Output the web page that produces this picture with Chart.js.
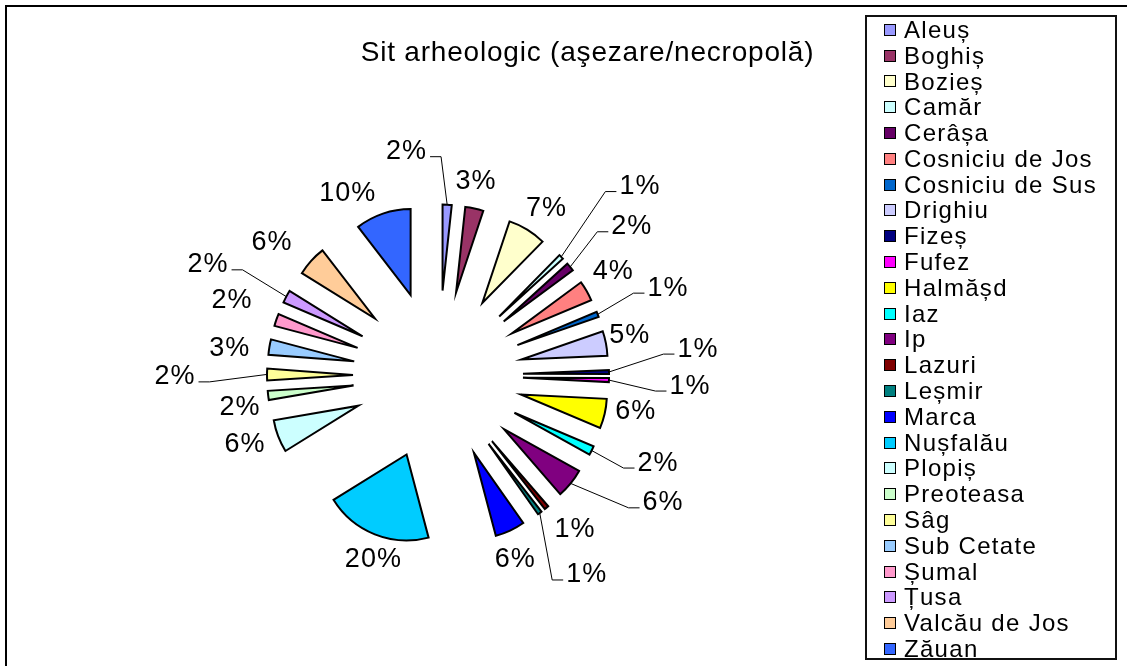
<!DOCTYPE html>
<html>
<head>
<meta charset="utf-8">
<script src="https://cdn.jsdelivr.net/npm/chart.js@4.4.1/dist/chart.umd.min.js"></script>
<style>
html,body{margin:0;padding:0;width:1127px;height:666px;overflow:hidden;background:#fff;}
#wrap{position:relative;width:1127px;height:666px;overflow:hidden;}
#frame{position:absolute;left:5px;top:5px;width:1200px;height:720px;border:2px solid #000;box-sizing:border-box;}
#chart{position:absolute;left:0;top:0;}
#title{position:absolute;left:287.5px;width:600px;top:38px;text-align:center;font-family:'Liberation Sans',Arial,sans-serif;font-size:28px;letter-spacing:0.8px;line-height:1;color:#000;white-space:nowrap;}
#legend{position:absolute;left:865px;top:15px;width:252px;height:645px;border:2px solid #111;box-sizing:border-box;background:#fff;}
#legend ul{list-style:none;margin:0;padding:0 0 0 17px;}
#legend li{height:25.8px;display:flex;align-items:center;font-family:'Liberation Sans',Arial,sans-serif;font-size:24px;letter-spacing:1.3px;color:#000;white-space:nowrap;}
#legend .sw{width:12px;height:12px;box-sizing:border-box;border:1.5px solid #000;margin-right:8px;flex:none;}
</style>
</head>
<body>
<div id="wrap">
  <div id="frame"></div>
  <canvas id="chart" width="1127" height="666"></canvas>
  <div id="title">Sit arheologic (aşezare/necropolă)</div>
  <div id="legend"><ul id="legendList"></ul></div>
</div>
<script>
// ---- data ----
const categories = ['Aleuș','Boghiș','Bozieș','Camăr','Cerâșa','Cosniciu de Jos','Cosniciu de Sus','Drighiu','Fizeș','Fufez','Halmășd','Iaz','Ip','Lazuri','Leșmir','Marca','Nușfalău','Plopiș','Preoteasa','Sâg','Sub Cetate','Șumal','Țusa','Valcău de Jos','Zăuan'];
const siteShare = [1.7, 3.4, 7.2, 0.9, 1.6, 3.8, 1.0, 4.6, 0.75, 0.75, 5.55, 1.7, 5.55, 0.8, 0.8, 5.6, 20.2, 6.1, 1.7, 2.2, 2.9, 2.3, 2.4, 5.7, 10.4];
const sliceColors = ['#9999FF','#993366','#FFFFCC','#CCFFFF','#660066','#FF8080','#0066CC','#CCCCFF','#000080','#FF00FF','#FFFF00','#00FFFF','#800080','#800000','#008080','#0000FF','#00CCFF','#CCFFFF','#CCFFCC','#FFFF99','#99CCFF','#FF99CC','#CC99FF','#FFCC99','#3366FF'];

// ---- label layout (polar: degrees clockwise from top, distance from pie centre, leader line) ----
const labelPlacement = [
  [352,226,true],[11.1,197.5,false],[33.1,198.8,false],[46.9,276.5,true],[52.5,244.3,true],
  [59.4,203.7,false],[69.2,246,true],[78.2,196,false],[84.2,261.3,true],[92.4,252.2,true],
  [100.2,201,false],[111.7,236.8,true],[119.5,258.6,true],[138.4,206.5,false],[143.3,248.8,true],
  [157.3,200,false],[199.3,195.5,false],[250.2,205,false],[260.7,200.6,false],[269.7,263,true],
  [277.5,210,false],[290.1,219.4,false],[295.7,255.2,true],[308.6,212.4,false],[333.7,203.5,false]
];
const EXPLODE = 85;

function pieCentre(chart){
  const ca = chart.chartArea;
  return {x:(ca.left+ca.right)/2, y:(ca.top+ca.bottom)/2};
}

const explodePlugin = {
  id:'explode',
  beforeDatasetDraw(chart, args){
    const c = pieCentre(chart);
    args.meta.data.forEach(arc => {
      const mid = (arc.startAngle + arc.endAngle)/2;
      arc.x = c.x + Math.cos(mid)*EXPLODE;
      arc.y = c.y + Math.sin(mid)*EXPLODE;
    });
  }
};

const labelPlugin = {
  id:'pctLabels',
  afterDatasetsDraw(chart){
    const ctx = chart.ctx;
    const meta = chart.getDatasetMeta(0);
    const data = chart.data.datasets[0].data;
    const total = data.reduce((a,b)=>a+b,0);
    const c = pieCentre(chart);
    ctx.save();
    ctx.font = '27px "Liberation Sans", Arial, sans-serif';
    try { ctx.letterSpacing = '1px'; } catch(e) {}
    ctx.textAlign = 'center';
    ctx.textBaseline = 'middle';
    ctx.fillStyle = '#000';
    meta.data.forEach((arc,i) => {
      const txt = Math.round(data[i]/total*100) + '%';
      const [ang, dist, leader] = labelPlacement[i];
      const a = ang*Math.PI/180;
      const lx = c.x + Math.sin(a)*dist;
      const ly = c.y - Math.cos(a)*dist;
      if (leader) {
        const mid = (arc.startAngle + arc.endAngle)/2;
        const r = arc.outerRadius;
        const sx = arc.x + Math.cos(mid)*r;
        const sy = arc.y + Math.sin(mid)*r;
        const w = ctx.measureText(txt).width;
        const dir = lx > sx ? -1 : 1;
        const edge = lx + dir*w/2;
        const ey = ly + 5;
        ctx.beginPath();
        ctx.moveTo(sx, sy);
        ctx.lineTo(edge + dir*14, ey);
        ctx.lineTo(edge + dir*3, ey);
        ctx.lineWidth = 1;
        ctx.strokeStyle = '#000';
        ctx.stroke();
      }
      ctx.fillText(txt, lx, ly);
    });
    ctx.restore();
  }
};

const chart = new Chart(document.getElementById('chart'), {
  type:'pie',
  data:{
    labels:categories,
    datasets:[{
      data:siteShare,
      backgroundColor:sliceColors,
      borderColor:'#000',
      borderWidth:2,
      borderJoinStyle:'miter'
    }]
  },
  options:{
    responsive:false,
    animation:false,
    events:[],
    radius:86,
    layout:{padding:{left:0,right:251,top:85,bottom:0}},
    plugins:{
      legend:{display:false},
      tooltip:{enabled:false},
      title:{display:false}
    }
  },
  plugins:[explodePlugin, labelPlugin]
});

// HTML legend built from the chart's own legend items
const items = chart.options.plugins.legend.labels.generateLabels(chart);
const ul = document.getElementById('legendList');
items.forEach(it => {
  const li = document.createElement('li');
  const sw = document.createElement('span');
  sw.className = 'sw';
  sw.style.background = it.fillStyle;
  li.appendChild(sw);
  li.appendChild(document.createTextNode(it.text));
  ul.appendChild(li);
});
</script>
</body>
</html>
